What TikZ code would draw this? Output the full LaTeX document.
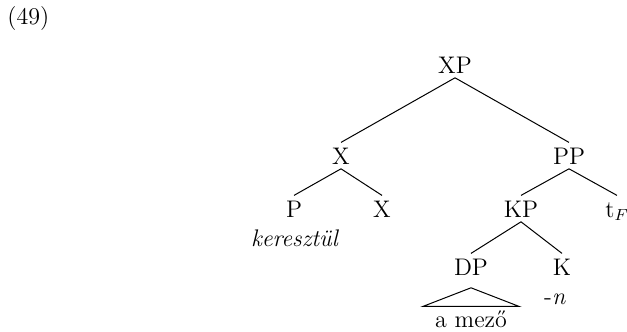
\documentclass[tikz,border=0pt]{standalone}
\begin{document}
\begin{tikzpicture}[x=0.5pt,y=-0.5pt,
  lab/.style={anchor=base,inner sep=2.2pt,text height=8.4pt,text depth=0pt,font=\fontsize{12}{14.5}\selectfont},
  word/.style={anchor=base,inner sep=2.2pt,text height=8.4pt,text depth=0pt,font=\fontsize{12}{14.5}\selectfont},
  br/.style={line width=0.5pt}]
\useasboundingbox (0,0) rectangle (627,332);
\node[word,anchor=base west,inner sep=0pt] (num) at (7,24.5) {(49)};
\node[lab] (XP) at (455,73) {XP};
\node[lab] (X1) at (341,164) {X};
\node[lab] (PP) at (569,164) {PP};
\node[lab] (P) at (294,217) {P};
\node[lab] (X2) at (382,217) {X};
\node[lab] (KP) at (521,217) {KP};
\node[lab] (tF) at (617,217) {t$_F$};
\node[word] (ker) at (295,246) {\textit{keresztül}};
\node[lab] (DP) at (471,275) {DP};
\node[lab] (K) at (562,275) {K};
\node[word] (n) at (555,304) {-\textit{n}};
\node[word] (am) at (471,327) {a mező};
\draw[br] (XP.south) -- (X1.north);
\draw[br] (XP.south) -- (PP.north);
\draw[br] (X1.south) -- (P.north);
\draw[br] (X1.south) -- (X2.north);
\draw[br] (PP.south) -- (KP.north);
\draw[br] (PP.south) -- (tF.north);
\draw[br] (KP.south) -- (DP.north);
\draw[br] (KP.south) -- (K.north);
\draw[br] ([yshift=-4pt]DP.south) -- ([xshift=-24pt,yshift=-0.5pt]am.north) -- ([xshift=24pt,yshift=-0.5pt]am.north) -- cycle;
\end{tikzpicture}
\end{document}
